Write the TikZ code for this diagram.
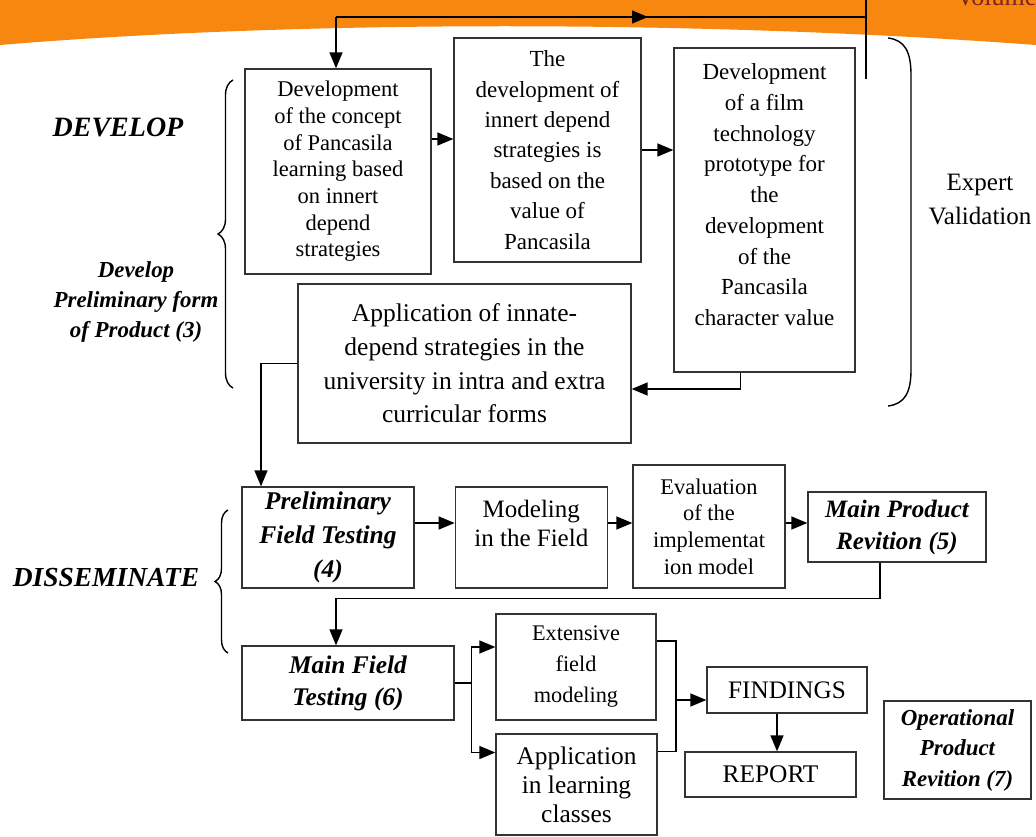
\documentclass[tikz,border=0pt]{standalone}
\usepackage{fontspec}
\setmainfont{Liberation Serif}
\usetikzlibrary{arrows.meta}
\usetikzlibrary{positioning}
\usetikzlibrary{decorations.pathreplacing}

\definecolor{banner}{HTML}{F7870E}
\definecolor{volred}{HTML}{7A2323}
\newcommand{\fsz}[2]{\fontsize{#1}{#2}\selectfont}

\begin{document}
\begin{tikzpicture}[x=1pt, y=-1pt, line width=1.4pt,
    flow/.style={-{Triangle[length=16pt,width=13pt]}},
    box/.style={draw=black!80, line width=1.3pt, rectangle, align=center, inner sep=0pt},
    stage/.style={align=center}]
  \useasboundingbox (0,0) rectangle (1036,837);

  % header band
  \fill[banner] (0,0) -- (1036,0) -- (1036,45) .. controls (700,20) and (300,20) .. (0,45) -- cycle;
  \node[volred, anchor=base west, font=\fsz{26}{26}] (vol) at (952,6) {Volume};

  % Develop stage
  \node[box, minimum width=186pt, minimum height=205pt, font=\fsz{22.5}{26.7}] (A) at (338,171.5)
    {Development\\of the concept\\of Pancasila\\learning based\\on innert\\depend\\strategies};
  \node[box, minimum width=187pt, minimum height=224pt, font=\fsz{23}{30.4}] (B) at (547.5,150)
    {The\\development of\\innert depend\\strategies is\\based on the\\value of\\Pancasila};
  \node[box, minimum width=181pt, minimum height=324pt, font=\fsz{23}{30.7}] (C) at (764.5,210)
    {Development\\of a film\\technology\\prototype for\\the\\development\\of the\\Pancasila\\character value\\\mbox{}};
  \node[box, minimum width=333pt, minimum height=159pt, font=\fsz{25.5}{33.7}] (D) at (464.5,363.5)
    {Application of innate-\\depend strategies in the\\university in intra and extra\\curricular forms};

  % Disseminate stage
  \node[box, minimum width=172pt, minimum height=101pt, font=\fsz{25.5}{34}\bfseries\itshape] (E) at (328,537.5)
    {Preliminary\\Field Testing\\(4)};
  \node[box, minimum width=152pt, minimum height=101pt, font=\fsz{25}{29}] (F) [right=40pt of E]
    {Modeling\\in the Field\\\mbox{}};
  \node[box, minimum width=152pt, minimum height=123pt, font=\fsz{22.4}{26.7}] (G) at (709,526.5)
    {Evaluation\\of the\\implementat\\ion model};
  \node[box, minimum width=178pt, minimum height=70pt, font=\fsz{25}{32}\bfseries\itshape] (H) at (897,527)
    {Main Product\\Revition (5)};
  \node[box, minimum width=212pt, minimum height=74pt, font=\fsz{25.4}{32}\bfseries\itshape] (I) at (348,683)
    {Main Field\\Testing (6)};
  \node[box, minimum width=160pt, minimum height=106pt, font=\fsz{22.3}{31}] (J) at (576,667)
    {Extensive\\field\\modeling};
  \node[box, minimum width=161pt, minimum height=101pt, font=\fsz{25.4}{29}] (K) at (576.5,784.5)
    {Application\\in learning\\classes};
  \node[box, minimum width=160pt, minimum height=46pt, font=\fsz{25.2}{30}] (L) at (787,690) {FINDINGS};
  \node[box, minimum width=171pt, minimum height=45pt, font=\fsz{25.4}{30}] (M) at (770.5,774.5) {REPORT};
  \node[box, minimum width=147pt, minimum height=98pt, font=\fsz{22.9}{30.5}\bfseries\itshape] (N) at (957.5,750)
    {Operational\\Product\\Revition (7)};

  % stage labels
  \node[stage, font=\fsz{28}{30}\bfseries\itshape] (develop) at (118,127) {DEVELOP};
  \node[stage, font=\fsz{22.9}{30}\bfseries\itshape] (prelim) at (136,302)
    {Develop\\Preliminary form\\of Product (3)};
  \node[stage, font=\fsz{27.5}{30}\bfseries\itshape] (dissem) at (106,578) {DISSEMINATE};
  \node[stage, font=\fsz{25}{34}] (expert) at (980,200) {Expert\\Validation};

  % braces
  \draw[decorate, decoration={brace, amplitude=15pt}] (233,388) -- (233,80);
  \draw[decorate, decoration={brace, amplitude=13pt}] (228,653) -- (228,510);
  \draw (888,38) .. controls (905,40) and (911,52) .. (911,75) -- (911,370)
    .. controls (911,392) and (905,404) .. (888,406);

  % feedback line over the header
  \coordinate (fbA) at (866,79);
  \coordinate (fbB) at (866,17);
  \coordinate (fbC) at (336,17);
  \draw (fbA) -- (866,0);
  \draw (fbB) -- (fbC);
  \draw[flow] (fbC) -- (648,17);
  \draw[flow] (fbC) -- (fbC |- A.north);

  % develop flow
  \draw[flow] (A.east |- 0,139) -- (B.west |- 0,139);
  \draw[flow] (B.east) -- (C.west |- B.east);
  \draw[flow] ([xshift=-24pt]C.south) |- ([yshift=-25.5pt]D.east);
  \draw[flow] (D.west) -| ([xshift=-67pt]E.north);

  % disseminate flow
  \coordinate (row) at (0,523);
  \draw[flow] (E.east |- row) -- (F.west |- row);
  \draw[flow] (F.east |- row) -- (G.west |- row);
  \draw[flow] (G.east |- row) -- (H.west |- row);
  \draw[flow] ([xshift=-17pt]H.south) -- ++(0,36) -| ([xshift=-12pt]I.north);
  \draw (I.east) -- ++(17,0) coordinate (fork);
  \draw[flow] (fork) |- ([yshift=20pt]J.west);
  \draw[flow] (fork) |- ([yshift=32pt]K.west);
  \coordinate (join) at (676,700);
  \draw ([yshift=26pt]J.east) -| (join) |- ([yshift=33pt]K.east);
  \draw[flow] (join) -- (L.west |- join);
  \draw[flow] ([xshift=-10pt]L.south) -- ([xshift=-10pt]L.south |- M.north);
\end{tikzpicture}
\end{document}
